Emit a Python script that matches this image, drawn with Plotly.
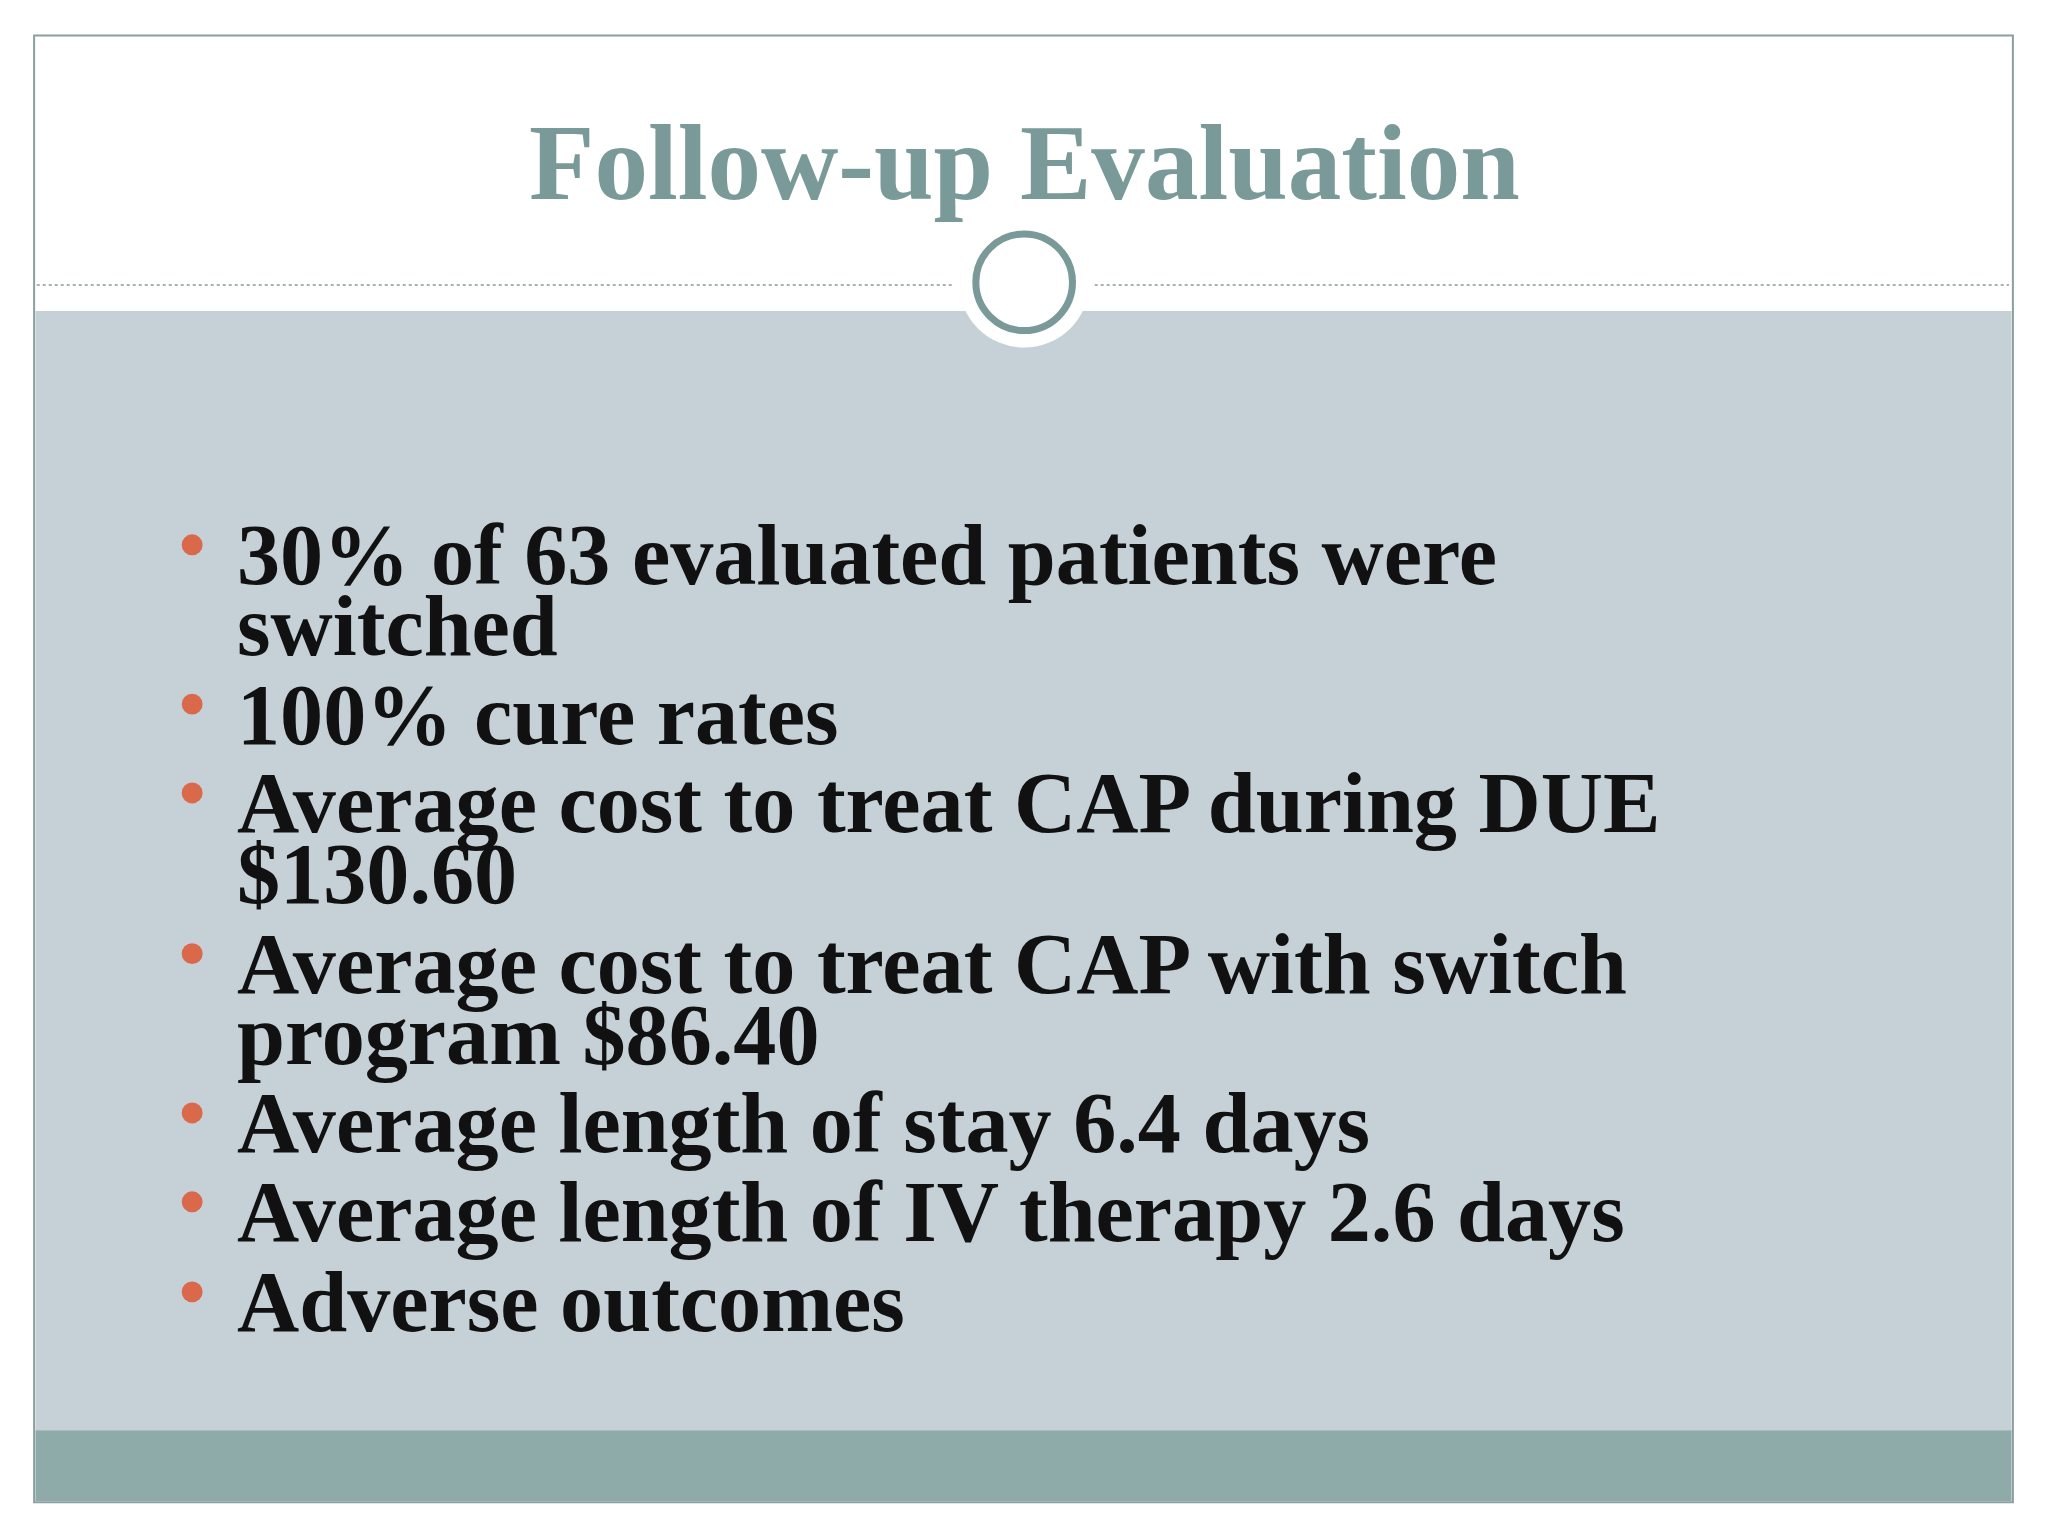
import plotly.graph_objects as go

W, H = 2048, 1536
REF_W, REF_H = 1568, 1176
K = W / REF_W
OFF = 6  # compensate page body margin

title = "Follow-up Evaluation"
bullet_lines = [
    ["30% of 63 evaluated patients were", "switched"],
    ["100% cure rates"],
    ["Average cost to treat CAP during DUE", "$130.60"],
    ["Average cost to treat CAP with switch", "program $86.40"],
    ["Average length of stay 6.4 days"],
    ["Average length of IV therapy 2.6 days"],
    ["Adverse outcomes"],
]
first_line_y = [425, 547, 615, 738, 860, 928, 997]
line_gap = 54

fig = go.Figure()
fig.add_trace(go.Scatter(x=[0], y=[0], mode="markers", marker=dict(opacity=0), hoverinfo="skip", showlegend=False))

shapes = [
    dict(type="rect", x0=26, x1=1541, y0=27, y1=1150, line=dict(color="#8AA0A0", width=2), fillcolor="white", layer="below"),
    dict(type="rect", x0=27, x1=1540, y0=238, y1=1095, line=dict(width=0), fillcolor="#C5D1D7", layer="below"),
    dict(type="rect", x0=27, x1=1540, y0=1095, y1=1149, line=dict(width=0), fillcolor="#8EABAA", layer="below"),
    dict(type="line", x0=28, x1=730, y0=218, y1=218, line=dict(color="#8A9A9A", width=1.5, dash="dot")),
    dict(type="line", x0=838, x1=1538, y0=218, y1=218, line=dict(color="#8A9A9A", width=1.5, dash="dot")),
    dict(type="circle", x0=784 - 50, x1=784 + 50, y0=216 - 50, y1=216 + 50, line=dict(width=0), fillcolor="white"),
    dict(type="circle", x0=784 - 37, x1=784 + 37, y0=216 - 37, y1=216 + 37, line=dict(color="#7A9A9A", width=7), fillcolor="white"),
]

ann = [dict(x=784, y=125, text=f"<b>{title}</b>", showarrow=False, xanchor="center", yanchor="middle",
            font=dict(family="Liberation Serif", size=82 * K, color="#7A9A9A"))]
for lines, y0 in zip(bullet_lines, first_line_y):
    shapes.append(dict(type="circle", x0=139, x1=155, y0=y0 - 16, y1=y0, line=dict(width=0), fillcolor="#D9694A"))
    for i, t in enumerate(lines):
        ann.append(dict(x=180, y=y0 + i * line_gap, text=f"<b>{t}</b>", showarrow=False, xanchor="left", yanchor="middle",
                        font=dict(family="Liberation Serif", size=66 * K, color="#111111")))

fig.update_layout(width=W, height=H, margin=dict(l=0, r=0, t=0, b=0), paper_bgcolor="white", plot_bgcolor="white",
                  shapes=shapes, annotations=ann, showlegend=False)
fig.update_xaxes(range=[OFF, REF_W + OFF], visible=False, fixedrange=True)
fig.update_yaxes(range=[REF_H + OFF, OFF], visible=False, fixedrange=True)
fig.write_html("out.html")
